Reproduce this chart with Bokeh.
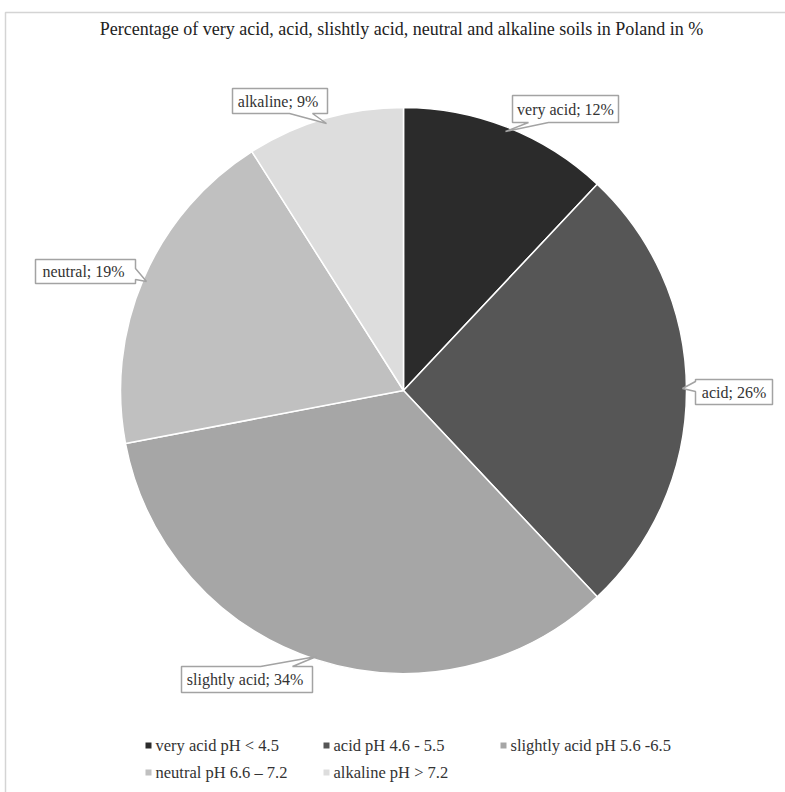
import math
from bokeh.plotting import figure
from bokeh.models import Range1d
from bokeh.core.properties import value
from bokeh.embed import file_html
from bokeh.resources import INLINE

# ---- data ----
categories = ["very acid", "acid", "slightly acid", "neutral", "alkaline"]
percentages = [12, 26, 34, 19, 9]
slice_labels = ["very acid; 12%", "acid; 26%", "slightly  acid; 34%", "neutral;  19%", "alkaline;  9%"]
legend_labels = ["very acid pH < 4.5", "acid pH 4.6 - 5.5", "slightly acid pH 5.6 -6.5",
                 "neutral  pH 6.6 \u2013 7.2", "alkaline pH > 7.2"]
colors = ["#2b2b2b", "#565656", "#a6a6a6", "#c0c0c0", "#dddddd"]
title_text = "Percentage of very acid, acid, slishtly acid, neutral and alkaline soils in Poland in %"

W, H = 785, 792
FONT = "'Liberation Serif', serif"


def sy(y):
    return H - y


p = figure(width=W, height=H, output_backend="svg", toolbar_location=None,
           x_range=Range1d(0, W), y_range=Range1d(0, H), min_border=0)
p.axis.visible = False
p.grid.visible = False
p.outline_line_color = None
p.background_fill_color = "white"
p.border_fill_color = "white"

# outer chart frame
p.quad(left=[5], right=[W + 20], top=[sy(12)], bottom=[sy(H + 20)],
       fill_color=None, line_color="#d4d4d4", line_width=1.5)

# title
p.text(x=[401], y=[sy(28)], text=[title_text], text_font=value(FONT),
       text_font_size="18px", text_align="center", text_baseline="middle",
       text_color="#222222")

# pie
cx, cy, r = 403, sy(390), 283
total = sum(percentages)
starts, ends = [], []
cum = 0.0
for v in percentages:
    starts.append(math.pi / 2 - 2 * math.pi * cum / total)
    cum += v
    ends.append(math.pi / 2 - 2 * math.pi * cum / total)
p.wedge(x=cx, y=cy, radius=r, start_angle=starts, end_angle=ends,
        direction="clock", fill_color=colors, line_color="white", line_width=1.5)

# callout boxes: (left, top, right, bottom, side, base1, base2, tip_x, tip_y) in screen px
callouts = [
    (512, 95, 618, 122, "bottom", 548, 528, 505, 131),   # very acid
    (695, 379, 772, 404, "left", 381, 391, 682, 388),     # acid
    (181, 666, 312, 692, "top", 260, 292, 316, 656),      # slightly acid
    (35, 259, 135, 283, "right", 268, 279, 146, 281),     # neutral
    (232, 88, 327, 113, "bottom", 312, 289, 326, 123),    # alkaline
]
xs_list, ys_list, tx, ty = [], [], [], []
for (l, t, rr, b, side, b1, b2, px, py) in callouts:
    if side == "bottom":
        pts = [(l, t), (rr, t), (rr, b), (b1, b), (px, py), (b2, b), (l, b)]
    elif side == "top":
        pts = [(l, t), (b1, t), (px, py), (b2, t), (rr, t), (rr, b), (l, b)]
    elif side == "left":
        pts = [(l, t), (rr, t), (rr, b), (l, b), (l, b2), (px, py), (l, b1)]
    else:
        pts = [(l, t), (rr, t), (rr, b1), (px, py), (rr, b2), (rr, b), (l, b)]
    xs_list.append([q[0] for q in pts])
    ys_list.append([sy(q[1]) for q in pts])
    tx.append((l + rr) / 2)
    ty.append(sy((t + b) / 2))
p.patches(xs=xs_list, ys=ys_list, fill_color="white", line_color="#a3a3a3", line_width=1.5)
p.text(x=tx, y=ty, text=slice_labels, text_font=value(FONT), text_font_size="16px",
       text_align="center", text_baseline="middle", text_color="#333333")

# legend
leg_x = [148, 326, 503, 148, 326]
leg_y = [745, 745, 745, 772, 772]
p.scatter(x=leg_x, y=[sy(v) for v in leg_y], marker="square", size=6,
          fill_color=colors, line_color=None)
p.text(x=[v + 7 for v in leg_x], y=[sy(v) for v in leg_y], text=legend_labels,
       text_font=value(FONT), text_font_size="16.5px", text_align="left",
       text_baseline="middle", text_color="#333333")

open("out.html", "w").write(file_html(p, INLINE))
